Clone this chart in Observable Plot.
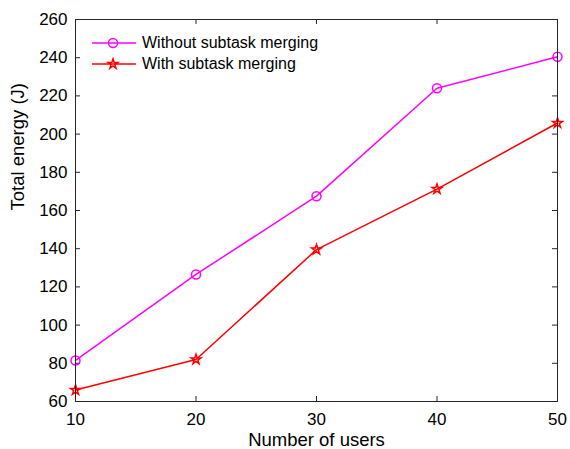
<!DOCTYPE html>
<html>
<head>
<meta charset="utf-8">
<script src="https://cdn.jsdelivr.net/npm/d3@7"></script>
<script src="https://cdn.jsdelivr.net/npm/@observablehq/plot@0.6"></script>
<style>
  html, body { margin: 0; padding: 0; background: #fff; }
  #wrap { position: relative; width: 570px; height: 449px; font-family: "Liberation Sans", Arial, Helvetica, sans-serif; }
  #legend { position: absolute; left: 92px; top: 32px; font-size: 16px; color: #000; }
  .item { display: flex; align-items: center; height: 21.5px; }
  .item svg { margin-right: 6px; }
</style>
</head>
<body>
<div id="wrap"></div>
<script>
const users = [10, 20, 30, 40, 50];
const withoutMerging = [81.5, 126.5, 167.5, 224, 240.5];
const withMerging = [66, 82, 139.5, 171.2, 205.8];
const seriesNames = ["Without subtask merging", "With subtask merging"];
const seriesColors = ["#ff00ff", "#ff0000"];
const xTicks = [10, 20, 30, 40, 50];
const yTicks = [60, 80, 100, 120, 140, 160, 180, 200, 220, 240, 260];

const data = [];
users.forEach((u, i) => {
  data.push({users: u, energy: withoutMerging[i], series: seriesNames[0]});
  data.push({users: u, energy: withMerging[i], series: seriesNames[1]});
});
const dA = data.filter(d => d.series === seriesNames[0]);
const dB = data.filter(d => d.series === seriesNames[1]);

const W = 570, H = 449;
const mL = 75, mR = 13, mT = 19, mB = 48;
const plotH = H - mT - mB;
const plotW = W - mL - mR;
const axisColor = "#262626";
const tk = 5;
const starR = 3.1;

const chart = Plot.plot({
  width: W, height: H,
  marginLeft: mL, marginRight: mR, marginTop: mT, marginBottom: mB,
  style: {fontFamily: '"Liberation Sans", Arial, Helvetica, sans-serif', fontSize: "17px", color: axisColor, background: "#fff"},
  x: {domain: [10, 50]},
  y: {domain: [60, 260]},
  marks: [
    Plot.axisX(xTicks, {tickSize: 0, tickPadding: 11, label: null, fontSize: 17, fill: "#000"}),
    Plot.axisY(yTicks, {tickSize: 0, tickPadding: 8, label: null, fontSize: 17, fill: "#000"}),
    Plot.tickX(xTicks, {x: d => d, stroke: axisColor, strokeWidth: 1, insetTop: plotH - tk}),
    Plot.tickX(xTicks, {x: d => d, stroke: axisColor, strokeWidth: 1, insetBottom: plotH - tk}),
    Plot.tickY(yTicks, {y: d => d, stroke: axisColor, strokeWidth: 1, insetRight: plotW - tk}),
    Plot.tickY(yTicks, {y: d => d, stroke: axisColor, strokeWidth: 1, insetLeft: plotW - tk}),
    Plot.line(dA, {x: "users", y: "energy", stroke: seriesColors[0], strokeWidth: 1.5}),
    Plot.line(dB, {x: "users", y: "energy", stroke: seriesColors[1], strokeWidth: 1.5}),
    Plot.dot(dA, {x: "users", y: "energy", symbol: "circle", r: 4.5, stroke: seriesColors[0], fill: "none", strokeWidth: 1.5}),
    Plot.dot(dB, {x: "users", y: "energy", symbol: "star", r: starR, stroke: seriesColors[1], fill: "none", strokeWidth: 1.5}),
    Plot.frame({stroke: axisColor, strokeWidth: 1}),
    Plot.text(["Number of users"], {frameAnchor: "bottom", lineAnchor: "bottom", dy: 44, fontSize: 18.5, fill: "#000"}),
    Plot.text(["Total energy (J)"], {frameAnchor: "left", rotate: -90, lineAnchor: "middle", dx: -57, fontSize: 18.5, fill: "#000"})
  ]
});

const wrap = document.getElementById("wrap");
wrap.appendChild(chart);

const legend = document.createElement("div");
legend.id = "legend";
const symSizes = [Math.PI * 4.5 * 4.5, Math.PI * starR * starR];
seriesNames.forEach((name, i) => {
  const item = document.createElement("div");
  item.className = "item";
  const s = d3.create("svg").attr("width", 44).attr("height", 16);
  s.append("line").attr("x1", 0).attr("x2", 44).attr("y1", 8).attr("y2", 8)
    .attr("stroke", seriesColors[i]).attr("stroke-width", 1.5);
  s.append("path").attr("transform", "translate(21,8)")
    .attr("d", d3.symbol(i === 0 ? d3.symbolCircle : d3.symbolStar, symSizes[i])())
    .attr("fill", "none").attr("stroke", seriesColors[i]).attr("stroke-width", 1.5);
  item.appendChild(s.node());
  const t = document.createElement("span");
  t.textContent = name;
  item.appendChild(t);
  legend.appendChild(item);
});
wrap.appendChild(legend);
</script>
</body>
</html>
